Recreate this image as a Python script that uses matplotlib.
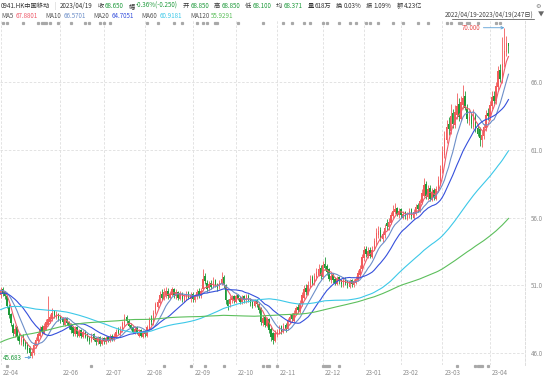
import matplotlib
matplotlib.use('Agg')
import numpy as np
import pandas as pd
from matplotlib import pyplot as plt
from matplotlib import transforms

plt.rcParams['font.family'] = ['Noto Sans CJK SC', 'DejaVu Sans']

# closes before 2022/04/19, only used to warm up the moving averages
prior_close = [
    42.2, 42.0, 42.4, 42.6, 42.3, 42.5, 42.7, 42.4, 42.6, 42.8,
    43.0, 42.7, 43.1, 43.3, 42.9, 43.2, 43.5, 43.3, 43.6, 43.4,
    43.7, 43.9, 43.6, 44.0, 44.2, 43.8, 44.1, 44.4, 44.2, 44.5,
    44.7, 44.4, 44.8, 45.0, 44.6, 44.9, 45.2, 45.0, 45.3, 45.1,
    45.4, 45.6, 45.3, 45.5, 45.8, 45.5, 45.7, 46.0, 45.6, 45.9,
    46.1, 45.8, 46.2, 46.0, 46.4, 46.1, 46.5, 46.3, 46.6, 46.4,
    46.5, 46.8, 46.6, 47.0, 46.9, 47.2, 47.1, 47.4, 47.3, 47.6,
    47.8, 47.6, 48.0, 47.9, 48.2, 48.1, 48.4, 48.3, 48.6, 48.5,
    49.1, 48.9, 49.3, 49.2, 49.5, 49.3, 49.6, 49.4, 49.7, 49.5,
    49.8, 49.6, 49.9, 50.1, 49.8, 50.0, 50.2, 49.9, 50.1, 50.0,
    50.0, 50.3, 50.1, 50.4, 50.2, 50.0, 50.3, 50.2, 50.4, 50.1,
    50.4, 50.7, 50.5, 50.8, 50.6, 50.5, 50.7, 50.6, 50.8,
]

close = [
    50.6, 50.4, 50.2, 49.5, 48.8, 48.2, 47.5, 47.8, 47.2, 46.9,
    47.1, 46.7, 46.5, 46.2, 46.0, 46.1, 46.6, 47.0, 47.4, 47.8,
    47.6, 48.0, 48.3, 48.5, 48.7, 49.0, 48.8, 48.9, 48.6, 48.4,
    48.3, 48.5, 48.2, 48.0, 47.7, 47.5, 47.8, 47.4, 47.6, 47.3,
    47.5, 47.2, 47.0, 46.9, 47.3, 47.0, 46.8, 47.1, 46.7, 47.0,
    46.9, 47.1, 46.9, 47.2, 47.0, 47.3, 47.6, 47.5, 47.8, 48.2,
    48.6, 48.4, 48.0, 47.8, 47.6, 47.8, 47.5, 47.6, 47.3, 47.5,
    47.4, 47.9, 48.5, 48.3, 49.0, 49.6, 49.8, 50.3, 50.1, 50.5,
    50.6, 50.2, 50.4, 50.7, 50.3, 50.5, 50.1, 50.4, 50.0, 50.2,
    50.4, 50.1, 50.3, 50.0, 50.2, 50.5, 50.3, 50.6, 51.5, 51.3,
    50.7, 51.1, 50.9, 51.3, 51.0, 50.8, 51.2, 51.5, 51.0, 49.9,
    49.5, 50.0, 50.1, 49.9, 50.2, 50.0, 49.8, 50.1, 49.9, 50.2,
    50.0, 49.7, 49.5, 49.8, 49.6, 49.2, 48.3, 48.6, 48.1, 48.5,
    47.7, 47.2, 47.0, 47.5, 47.6, 47.9, 47.6, 48.0, 47.8, 48.4,
    48.7, 48.5, 49.0, 49.3, 49.2, 49.7, 50.3, 50.7, 50.5, 51.0,
    51.5, 51.2, 51.7, 52.0, 52.2, 51.7, 52.5, 52.3, 52.0, 51.5,
    51.7, 51.4, 51.2, 51.5, 51.3, 51.1, 51.4, 51.2, 51.0, 51.3,
    51.1, 51.3, 51.5, 51.9, 52.2, 53.1, 53.6, 53.3, 53.5, 53.2,
    53.6, 54.3, 54.9, 55.0, 54.5, 54.8, 55.2, 55.4, 55.7, 56.2,
    56.5, 56.6, 56.3, 56.5, 56.2, 56.3, 56.1, 56.2, 56.5, 56.1,
    56.4, 56.8, 56.6, 57.2, 57.8, 58.4, 57.6, 58.1, 57.4, 57.9,
    57.5, 58.1, 58.8, 59.6, 60.8, 61.9, 62.7, 62.5, 63.5, 62.9,
    63.8, 64.2, 63.4, 64.5, 64.8, 64.1, 63.3, 63.4, 62.9, 63.6,
    62.5, 62.2, 61.9, 62.1, 62.7, 63.6, 63.5, 64.3, 64.9, 64.6,
    65.7, 66.8, 66.2, 67.35, 68.3, 68.9, 68.65,
]

open_ = [
    50.3, 50.7, 50.5, 50.2, 49.4, 48.9, 48.1, 47.4, 47.9, 47.3,
    46.8, 47.2, 46.9, 46.6, 46.4, 45.8, 46.0, 46.5, 46.9, 47.3,
    47.9, 47.5, 47.8, 48.1, 48.3, 48.5, 49.1, 48.6, 48.9, 48.7,
    48.5, 48.1, 48.6, 48.3, 48.1, 47.9, 47.4, 47.9, 47.3, 47.7,
    47.2, 47.6, 47.4, 47.2, 46.9, 47.4, 47.1, 46.8, 47.2, 46.7,
    47.1, 46.8, 47.2, 46.9, 47.3, 47.0, 47.2, 47.7, 47.4, 47.7,
    48.1, 48.7, 48.4, 48.1, 47.9, 47.5, 47.9, 47.3, 47.7, 47.2,
    47.6, 47.3, 47.8, 48.6, 48.2, 49.0, 49.4, 49.7, 50.4, 50.0,
    50.3, 50.6, 50.1, 50.3, 50.7, 50.2, 50.5, 50.0, 50.4, 49.9,
    50.1, 50.5, 50.0, 50.4, 49.9, 50.2, 50.6, 50.2, 50.7, 51.7,
    51.2, 50.8, 51.2, 50.9, 51.4, 51.1, 50.9, 51.1, 51.6, 51.0,
    49.9, 49.6, 49.9, 50.2, 49.8, 50.3, 50.1, 49.8, 50.2, 49.9,
    50.2, 50.0, 49.8, 49.5, 49.9, 49.6, 49.3, 48.2, 48.7, 48.0,
    48.5, 47.8, 47.5, 46.9, 47.4, 47.5, 48.0, 47.6, 48.1, 47.8,
    48.3, 48.8, 48.4, 48.9, 49.4, 49.1, 49.6, 50.1, 50.8, 50.4,
    50.9, 51.6, 51.1, 51.6, 51.8, 52.3, 51.6, 52.6, 52.4, 52.2,
    51.4, 51.8, 51.5, 51.1, 51.6, 51.4, 51.0, 51.5, 51.3, 50.9,
    51.4, 51.0, 51.2, 51.4, 51.8, 52.2, 53.0, 53.7, 53.2, 53.6,
    53.1, 53.7, 54.2, 54.7, 55.1, 54.4, 54.7, 55.6, 55.3, 55.6,
    56.1, 56.4, 56.7, 56.2, 56.6, 56.0, 56.4, 55.9, 56.2, 56.6,
    56.0, 56.3, 56.9, 56.5, 57.1, 57.6, 58.5, 57.5, 58.2, 57.3,
    58.0, 57.4, 58.0, 58.7, 59.5, 60.6, 61.7, 62.9, 62.4, 63.7,
    62.8, 63.6, 64.4, 63.3, 64.3, 65.0, 64.0, 63.1, 63.5, 62.7,
    63.5, 62.6, 62.5, 61.7, 62.0, 62.6, 63.7, 63.4, 64.2, 65.0,
    64.6, 65.6, 66.9, 66.1, 67.3, 68.2, 68.85,
]

high = [
    50.9, 50.9, 50.6, 50.3, 49.6, 49.0, 48.2, 48.1, 48.0, 47.5,
    47.3, 47.4, 47.0, 46.8, 46.5, 46.4, 46.8, 47.2, 47.6, 48.0,
    48.1, 48.2, 48.5, 50.2, 48.9, 49.3, 49.2, 49.1, 49.0, 48.8,
    48.7, 48.7, 48.7, 48.4, 48.2, 48.0, 48.0, 48.0, 47.8, 47.8,
    47.7, 47.7, 47.5, 47.3, 47.5, 47.5, 47.2, 47.3, 47.3, 47.2,
    47.2, 47.3, 47.3, 47.4, 47.4, 47.5, 47.8, 47.9, 48.0, 48.4,
    48.9, 48.8, 48.5, 48.2, 48.0, 48.0, 48.0, 47.8, 47.8, 47.7,
    47.7, 48.1, 48.7, 48.8, 49.2, 49.8, 50.0, 50.6, 50.7, 50.8,
    50.9, 50.8, 50.6, 50.9, 50.8, 50.7, 50.6, 50.6, 50.5, 50.4,
    50.6, 50.6, 50.5, 50.5, 50.4, 50.7, 50.8, 50.8, 52.2, 51.9,
    51.4, 51.3, 51.4, 51.6, 51.5, 51.2, 51.4, 52.0, 51.8, 51.1,
    50.0, 50.2, 50.3, 50.3, 50.4, 50.4, 50.2, 50.3, 50.3, 50.4,
    50.4, 50.1, 49.9, 50.0, 50.0, 49.7, 49.4, 48.8, 48.8, 48.7,
    48.6, 47.9, 47.6, 47.7, 47.8, 48.1, 48.1, 48.2, 48.2, 48.6,
    48.9, 49.0, 49.2, 49.5, 49.6, 49.9, 50.5, 51.0, 51.1, 51.3,
    51.8, 51.8, 51.9, 52.3, 52.6, 52.5, 52.8, 53.1, 52.6, 52.3,
    51.9, 51.9, 51.6, 51.7, 51.7, 51.5, 51.6, 51.6, 51.4, 51.5,
    51.5, 51.5, 51.7, 52.1, 52.5, 53.3, 53.9, 53.9, 53.8, 53.8,
    53.9, 54.5, 55.2, 55.4, 55.3, 55.0, 55.5, 55.9, 56.0, 56.4,
    56.9, 57.1, 56.8, 56.7, 56.7, 56.5, 56.5, 56.4, 56.7, 56.7,
    56.6, 57.0, 57.1, 57.4, 58.1, 58.9, 58.7, 58.4, 58.4, 58.2,
    58.2, 58.3, 59.1, 59.9, 61.3, 62.4, 63.2, 63.4, 64.4, 64.0,
    64.3, 65.2, 64.8, 65.0, 65.8, 65.3, 64.4, 63.9, 63.8, 64.0,
    63.7, 62.9, 62.7, 62.4, 62.9, 63.9, 64.1, 64.6, 65.3, 65.3,
    66.0, 67.2, 67.3, 69.3, 70.0, 69.4, 68.85,
]

low = [
    50.1, 50.2, 50.0, 49.3, 48.6, 48.0, 47.3, 47.2, 47.0, 46.7,
    46.6, 46.5, 46.3, 46.0, 45.8, 45.683, 45.9, 46.4, 46.8, 47.2,
    47.4, 47.4, 47.7, 48.0, 48.2, 48.4, 48.6, 48.5, 48.4, 48.2,
    48.1, 48.0, 48.1, 47.8, 47.5, 47.3, 47.3, 47.2, 47.2, 47.1,
    47.1, 47.1, 46.9, 46.7, 46.8, 46.9, 46.6, 46.7, 46.5, 46.6,
    46.7, 46.7, 46.8, 46.8, 46.9, 46.9, 47.1, 47.4, 47.3, 47.6,
    48.0, 48.2, 47.9, 47.7, 47.5, 47.4, 47.4, 47.2, 47.2, 47.1,
    47.2, 47.2, 47.7, 48.1, 48.1, 48.9, 49.3, 49.6, 49.9, 49.9,
    50.1, 50.0, 50.0, 50.2, 50.1, 50.0, 49.9, 49.9, 49.8, 49.8,
    49.9, 50.0, 49.8, 49.8, 49.8, 50.0, 50.1, 50.1, 50.6, 51.1,
    50.5, 50.6, 50.7, 50.8, 50.9, 50.6, 50.7, 51.0, 50.8, 49.6,
    49.2, 49.4, 49.7, 49.7, 49.7, 49.9, 49.6, 49.6, 49.7, 49.7,
    49.8, 49.5, 49.3, 49.4, 49.4, 49.0, 48.1, 48.0, 47.9, 47.9,
    47.5, 46.9, 46.7, 46.8, 47.2, 47.4, 47.4, 47.5, 47.6, 47.7,
    48.2, 48.3, 48.3, 48.8, 49.0, 49.0, 49.5, 50.0, 50.3, 50.3,
    50.8, 51.0, 51.0, 51.4, 51.7, 51.5, 51.5, 52.1, 51.8, 51.3,
    51.2, 51.2, 51.0, 51.0, 51.1, 50.9, 50.9, 51.0, 50.8, 50.8,
    50.9, 50.9, 51.1, 51.3, 51.7, 52.1, 52.8, 53.1, 53.0, 53.0,
    53.0, 53.6, 54.0, 54.5, 54.3, 54.2, 54.5, 55.1, 55.1, 55.5,
    56.0, 56.3, 56.1, 56.0, 56.0, 55.9, 55.9, 55.8, 56.0, 55.9,
    55.9, 56.2, 56.4, 56.4, 57.0, 57.5, 57.4, 57.3, 57.2, 57.2,
    57.3, 57.3, 57.9, 58.5, 59.3, 60.4, 61.5, 62.1, 62.2, 62.6,
    62.6, 63.3, 63.1, 63.1, 64.0, 63.9, 63.0, 62.8, 62.6, 62.5,
    62.3, 62.0, 61.3, 61.2, 61.8, 62.4, 63.2, 63.2, 64.0, 64.4,
    64.4, 65.4, 66.0, 65.9, 67.1, 67.9, 68.1,
]

month_labels = ['22-04', '22-06', '22-07', '22-08', '22-09', '22-10',
                '22-11', '22-12', '23-01', '23-02', '23-03', '23-04']
month_starts = [0, 29, 50, 70, 93, 114, 134, 156, 176, 194, 214, 237]
price_levels = [46.0, 51.0, 56.0, 61.0, 66.0]
top_events = [1, 3, 11, 18, 20, 21, 22, 24, 28, 34, 41, 43, 48, 50, 53, 71, 76, 84,
              88, 95, 98, 100, 104, 105, 115, 127, 137, 141, 147, 150, 156, 158, 164,
              169, 172, 177, 179, 183, 190, 195, 202, 207, 216, 218, 222, 223, 226,
              227, 231, 240, 242]
bottom_events = [3, 44, 79, 92, 99, 108, 127, 129, 130, 134, 156, 157, 158, 159, 164,
                 221, 230, 231, 232, 233, 236]

ma_periods = [5, 10, 20, 60, 120]
ma_colors = ['#ee5b6b', '#6d8fc9', '#3650dc', '#3cc8e8', '#5cbf5c']
ma_values = ['67.8801', '66.5701', '64.7051', '60.9181', '55.9291']

UP = '#f25c5c'
DOWN = '#1e9a38'
GREEN_TXT = '#1f9a3c'
DARK = '#333333'
GRAY = '#8c8c8c'
FS = 4.5

o = np.array(open_)
c = np.array(close)
h = np.array(high)
l = np.array(low)
x = np.arange(len(c))

fig = plt.figure(figsize=(5.5, 3.78), dpi=100)
ax = fig.add_axes([0, 1 - 365 / 378, 525 / 550, (365 - 20) / 378])
ax.set_xlim(-0.3, 254)
ax.set_ylim(45.13, 70.57)

# grid
for lvl in price_levels:
    ax.axhline(lvl, color='#dedede', lw=0.6, ls=(0, (3, 2)), zorder=0)
for m in month_starts:
    ax.axvline(m, color='#dedede', lw=0.6, ls=(0, (3, 2)), zorder=0)

# moving averages
full = pd.Series(prior_close + close)
for n, col in zip(ma_periods, ma_colors):
    ma = full.rolling(n, min_periods=1).mean().to_numpy()[len(prior_close):]
    ax.plot(x, ma, color=col, lw=0.8, zorder=3)

# candles
up = c >= o
colors = np.where(up, UP, DOWN)
ax.vlines(x, l, h, colors=colors, lw=0.6, zorder=2)
body_low = np.minimum(o, c)
body_h = np.maximum(np.abs(c - o), 0.05)
ax.bar(x[up], body_h[up], bottom=body_low[up], width=0.72, color=UP, lw=0, zorder=2)
ax.bar(x[~up], body_h[~up], bottom=body_low[~up], width=0.72, color=DOWN, lw=0, zorder=2)

# high / low markers
hi_i = int(np.argmax(h))
lo_i = int(np.argmin(l))
ax.annotate(f'{h[hi_i]:.3f}', xy=(hi_i, h[hi_i]), xytext=(hi_i - 11.5, h[hi_i]),
            ha='right', va='center', fontsize=FS, color='#e84a4a',
            arrowprops=dict(arrowstyle='->', color='#5a9fd6', lw=0.6, shrinkA=0, shrinkB=0))
ax.annotate(f'{l[lo_i]:.3f}', xy=(lo_i, l[lo_i]), xytext=(lo_i - 4.5, l[lo_i]),
            ha='right', va='center', fontsize=FS, color=GREEN_TXT,
            arrowprops=dict(arrowstyle='->', color='#5a9fd6', lw=0.6, shrinkA=0, shrinkB=0))

# axes styling
for s in ['top', 'left', 'bottom']:
    ax.spines[s].set_visible(False)
ax.spines['right'].set_color('#d8d8d8')
ax.spines['right'].set_linewidth(0.6)
ax.spines['right'].set_linestyle((0, (3, 2)))
ax.yaxis.tick_right()
ax.set_yticks(price_levels)
ax.set_yticklabels([f'{v:.1f}' for v in price_levels])
ax.tick_params(axis='y', length=0, pad=4, labelsize=FS, labelcolor=GRAY)
ax.set_xticks([])

tr = transforms.blended_transform_factory(ax.transData, ax.transAxes)
for m, lab in zip(month_starts, month_labels):
    ax.text(m + 1.0, -0.024, lab, transform=tr, ha='left', va='center',
            fontsize=FS, color=GRAY, clip_on=False)
ax.plot(top_events, [0.99] * len(top_events), 's', ms=1.3, color='#a8a8a8',
        transform=tr, clip_on=False, lw=0)
ax.plot(bottom_events, [-0.004] * len(bottom_events), 's', ms=1.3, color='#a8a8a8',
        transform=tr, clip_on=False, lw=0)

renderer = fig.canvas.get_renderer()


def ftext(xp, yp, s, color, ha='left', **kw):
    return fig.text(xp / 550, 1 - yp / 378, s, color=color, fontsize=FS,
                    va='center', ha=ha, **kw)


def text_row(items, yp, x0=1.0):
    # lay the pieces out one after another, gap is the space before each piece
    xp = x0
    for s, col, gap in items:
        xp += gap
        t = ftext(xp, yp, s, col)
        xp += t.get_window_extent(renderer).width


# header line 1
header = [
    ('0941.HK中国移动', DARK, 0), ('|', '#bbbbbb', 4), ('2023/04/19', DARK, 4),
    ('收', DARK, 5), ('68.650', GREEN_TXT, 1), ('幅', DARK, 5),
    ('-0.36%(-0.250)', GREEN_TXT, 1), ('开', DARK, 5), ('68.850', GREEN_TXT, 1),
    ('高', DARK, 5), ('68.850', GREEN_TXT, 1), ('低', DARK, 5),
    ('68.100', GREEN_TXT, 1), ('均', DARK, 5), ('68.371', GREEN_TXT, 1),
    ('量', DARK, 5), ('618万', DARK, 1), ('换', DARK, 5), ('0.03%', DARK, 1),
    ('振', DARK, 5), ('1.09%', DARK, 1), ('额', DARK, 5), ('4.23亿', DARK, 1),
]
text_row(header, 6)
ftext(538, 6, '⚙', '#777777', ha='center')

# header line 2: moving average values
ma_row = []
for i, (n, col, val) in enumerate(zip(ma_periods, ma_colors, ma_values)):
    ma_row.append((f'MA{n}', '#555555', 0 if i == 0 else 8))
    ma_row.append((val, col, 2))
text_row(ma_row, 16)

ftext(534, 15, '2022/04/19-2023/04/19(247日)', '#444444', ha='right')
fig.add_artist(plt.Line2D([452 / 550, 534 / 550], [1 - 19 / 378, 1 - 19 / 378],
                          color='#444444', lw=0.5))
ftext(541, 15, '▼', '#666666', ha='center')

fig.savefig('out.png', dpi=100, facecolor='white')
